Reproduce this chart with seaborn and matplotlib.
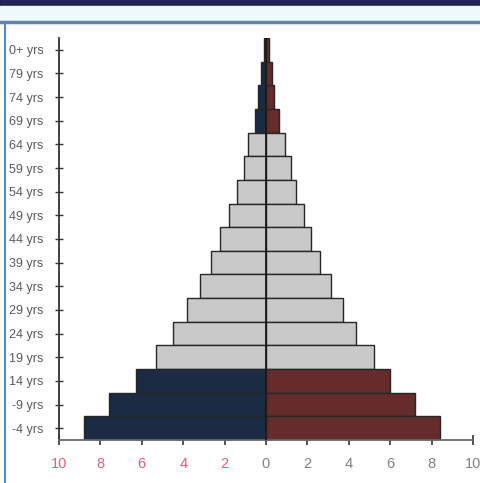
import pandas as pd
import matplotlib.pyplot as plt
import seaborn as sns
from matplotlib.patches import Rectangle
from matplotlib.lines import Line2D

# age groups, top to bottom (labels as they appear, cut off on the left)
ages = ["0+ yrs", "79 yrs", "74 yrs", "69 yrs", "64 yrs", "59 yrs", "54 yrs",
        "49 yrs", "44 yrs", "39 yrs", "34 yrs", "29 yrs", "24 yrs", "19 yrs",
        "14 yrs", "-9 yrs", "-4 yrs"]
# percent of population, left side and right side
left_pct = [0.12, 0.25, 0.4, 0.55, 0.85, 1.05, 1.4, 1.8, 2.2, 2.65, 3.2,
            3.8, 4.5, 5.3, 6.3, 7.6, 8.8]
right_pct = [0.15, 0.3, 0.4, 0.65, 0.9, 1.2, 1.45, 1.85, 2.15, 2.6, 3.15,
             3.7, 4.35, 5.2, 6.0, 7.2, 8.4]
# which groups are highlighted (dependent ages)
group = ["old", "old", "old", "old", "work", "work", "work", "work", "work",
         "work", "work", "work", "work", "work", "young", "young", "young"]
xticks = [-10, -8, -6, -4, -2, 0, 2, 4, 6, 8, 10]

df = pd.DataFrame({
    "age": ages * 2,
    "value": [-v for v in left_pct] + right_pct,
    "side": ["left"] * len(ages) + ["right"] * len(ages),
    "group": group * 2,
})

sns.set_theme(style="white")
plt.rcParams["font.family"] = ["Liberation Sans", "DejaVu Sans"]

fig = plt.figure(figsize=(4.81, 4.83), dpi=100)
ax = fig.add_axes([59 / 481, 43 / 483, 414 / 481, 402 / 483])

gray = "#c9c9c9"
left_colors = {a: ("#14294a" if g != "work" else gray) for a, g in zip(ages, group)}
right_colors = {a: ("#6e2322" if g != "work" else gray) for a, g in zip(ages, group)}

sns.barplot(data=df[df.side == "left"], x="value", y="age", hue="age",
            palette=left_colors, order=ages, orient="h", width=1.0,
            edgecolor="#262626", linewidth=1.0, legend=False, ax=ax)
sns.barplot(data=df[df.side == "right"], x="value", y="age", hue="age",
            palette=right_colors, order=ages, orient="h", width=1.0,
            edgecolor="#262626", linewidth=1.0, legend=False, ax=ax)

ax.axvline(0, color="#1a1a1a", lw=1.3, zorder=5)

ax.set_xlim(-10, 10)
ax.set_ylim(len(ages) - 0.5, -0.5)
ax.set_xticks(xticks)
ax.set_xticklabels([str(abs(t)) for t in xticks])
# left half of the axis is labelled in red
for lab, t in zip(ax.get_xticklabels(), xticks):
    lab.set_color("#e0607a" if t < 0 else "#808080")
ax.set_xlabel("")
ax.set_ylabel("")

ax.tick_params(axis="x", direction="inout", length=7, width=1.2, color="#333333",
               labelsize=10.5, pad=9, bottom=True)
ax.tick_params(axis="y", direction="inout", length=6, width=1.0, color="#333333",
               labelsize=9, labelcolor="#5a5a5a", pad=8, left=True)

for side in ["top", "right"]:
    ax.spines[side].set_visible(False)
ax.spines["left"].set_color("#333333")
ax.spines["left"].set_linewidth(1.3)
ax.spines["bottom"].set_color("#666666")
ax.spines["bottom"].set_linewidth(1.3)

# slide frame around the chart
fig.patches.append(Rectangle((0, 1 - 5 / 483), 1, 5 / 483, transform=fig.transFigure,
                             color="#1f2358", zorder=0))
fig.patches.append(Rectangle((0, 1 - 15 / 483), 4 / 481, 15 / 483, transform=fig.transFigure,
                             color="#1f2358", zorder=0))
fig.patches.append(Rectangle((0, 1 - 20 / 483), 1, 14 / 483, transform=fig.transFigure,
                             color="#eefafd", zorder=0))
fig.lines.append(Line2D([0, 1], [1 - 21.5 / 483, 1 - 21.5 / 483], transform=fig.transFigure,
                        color="#5f86a8", lw=2.5))
fig.lines.append(Line2D([5 / 481, 5 / 481], [0, 1 - 21.5 / 483], transform=fig.transFigure,
                        color="#5b86bd", lw=1.5))

fig.savefig("out.png", dpi=100)
